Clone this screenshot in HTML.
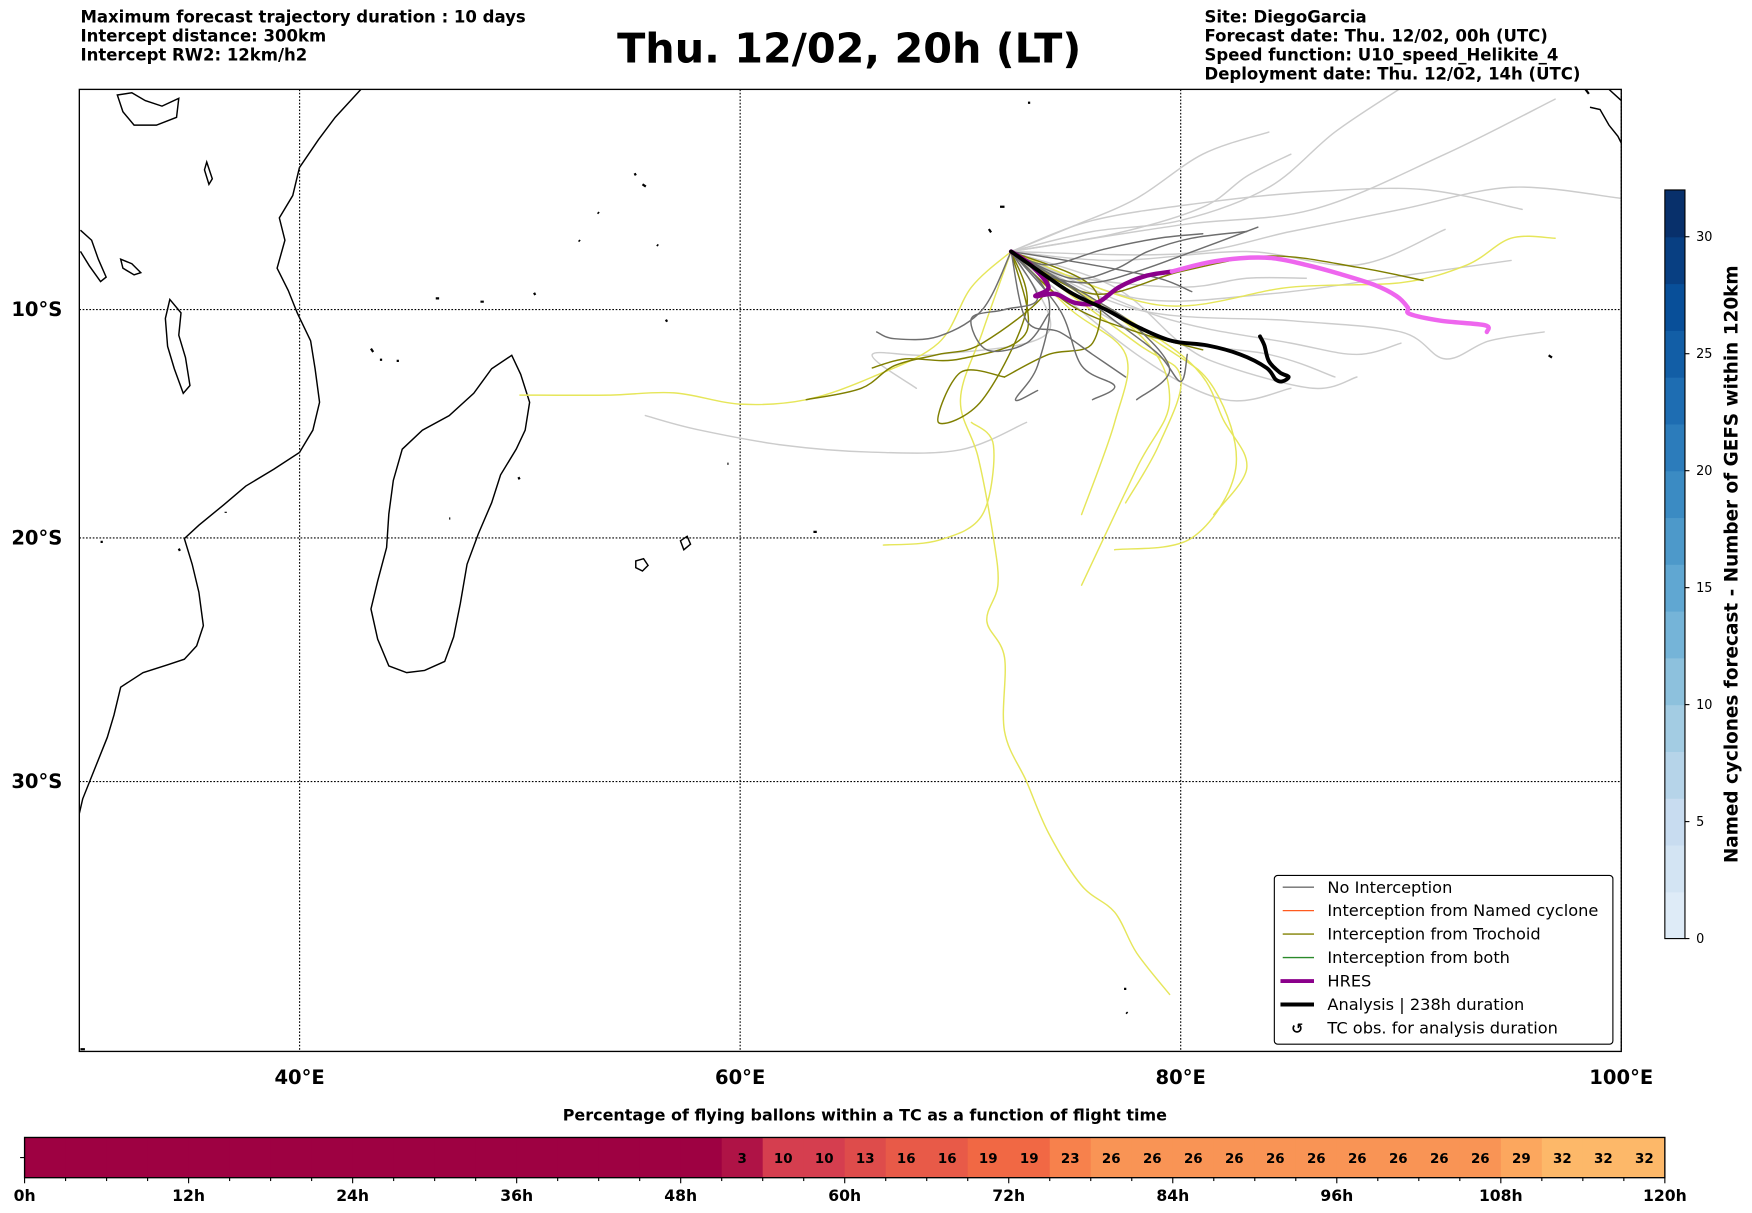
<!DOCTYPE html>
<html><head><meta charset="utf-8">
<style>
html,body{margin:0;padding:0;background:#fff;}
svg{display:block;font-family:"Liberation Sans","DejaVu Sans",sans-serif;}
</style></head>
<body>
<svg id="chart" width="1752" height="1213" viewBox="0 0 1568 1085.6" xmlns="http://www.w3.org/2000/svg">
<g font-size="14.8" font-weight="bold" font-family="DejaVu Sans, sans-serif">
<text x="72" y="20">Maximum forecast trajectory duration : 10 days</text>
<text x="72" y="37">Intercept distance: 300km</text>
<text x="72" y="54">Intercept RW2: 12km/h2</text>
</g>
<text x="760" y="56" text-anchor="middle" font-size="37" font-weight="bold" font-family="DejaVu Sans, sans-serif">Thu. 12/02, 20h (LT)</text>
<g font-size="14.8" font-weight="bold" font-family="DejaVu Sans, sans-serif">
<text x="1078" y="20">Site: DiegoGarcia</text>
<text x="1078" y="37">Forecast date: Thu. 12/02, 00h (UTC)</text>
<text x="1078" y="54">Speed function: U10_speed_Helikite_4</text>
<text x="1078" y="71">Deployment date: Thu. 12/02, 14h (UTC)</text>
</g>
<defs><clipPath id="mapclip"><rect x="71" y="80" width="1380" height="861"/></clipPath></defs>
<g id="grid"></g>
<g clip-path="url(#mapclip)" fill="none" stroke="#000" stroke-width="1.3">
<path d="M323,80 L300,105 L285,125 L268,150 L262,175 L250,195 L255,215 L248,240 L258,260 L266,280 L278,305 L282,330 L286,360 L280,385 L268,405 L245,420 L220,435 L200,452 L178,470 L165,482 L172,505 L178,530 L182,560 L176,578 L165,590 L150,595 L128,602 L108,615 L102,640 L96,660 L86,685 L74,715 L71,728"/>
<path d="M458,318 L466,335 L474,360 L470,385 L462,402 L448,425 L440,450 L428,478 L418,505 L412,540 L406,570 L398,592 L380,600 L364,602 L348,596 L338,572 L332,545 L338,520 L346,490 L348,460 L352,430 L360,402 L378,385 L402,372 L424,352 L440,330 Z"/>
<path d="M152,268 L162,280 L160,300 L166,320 L170,345 L164,352 L156,330 L150,310 L148,285 Z"/>
<path d="M72,206 L82,215 L88,232 L95,248 L90,252 L80,238 L72,225"/>
<path d="M105,85 L118,83 L130,90 L145,95 L160,88 L158,105 L140,112 L120,112 L110,100 Z"/>
<path d="M108,232 L118,236 L126,244 L120,246 L110,240 Z"/>
<path d="M185,145 L190,160 L187,165 L183,152 Z"/>
<path d="M569,502 L576,500 L580,506 L575,511 L569,508 Z"/>
<path d="M609,484 L615,480 L618,487 L612,492 Z"/>
<path d="M1423,96 L1432,98 L1440,112 L1448,122 L1451,128 M1440,80 L1451,90"/>
<path stroke-width="2" d="M390,267 l3,0 M430,270 l3,0 M478,262 l1,2 M332,312 l2,3 M340,322 l2,0 M355,323 l2,0 M568,155 l1,2 M575,165 l3,2 M535,190 l1,1 M518,215 l1,1 M588,219 l1,1 M596,286 l1,2 M651,415 l1,0 M464,427 l1,2 M402,464 l1,0 M1386,318 l3,2 M1006,885 l2,0 M1008,906 l1,1 M895,185 l4,0 M885,205 l2,3 M920,92 l2,0 M1419,80 l3,4 M160,491 l1,2 M90,485 l2,0 M202,458 l0,1 M728,476 l3,0 M72,939 l4,0"/>
</g>
<g id="tracks" clip-path="url(#mapclip)" fill="none" stroke-linejoin="round" stroke-linecap="round"></g>
<rect x="71" y="80" width="1380" height="861" fill="none" stroke="#000" stroke-width="1.2"/>
<g id="axislabels" font-size="17.5" font-weight="bold" font-family="DejaVu Sans, sans-serif"></g>
<g>
<rect x="1140.5" y="783.5" width="303" height="151" rx="3" fill="#fff" stroke="#000" stroke-width="1"/>
<g font-size="14.5" font-family="DejaVu Sans, sans-serif">
<line x1="1148" y1="794" x2="1176" y2="794" stroke="#6e6e6e" stroke-width="1.2"/><text x="1188" y="799">No Interception</text>
<line x1="1148" y1="815" x2="1176" y2="815" stroke="#ff5a1f" stroke-width="1.2"/><text x="1188" y="820">Interception from Named cyclone</text>
<line x1="1148" y1="836" x2="1176" y2="836" stroke="#808000" stroke-width="1.2"/><text x="1188" y="841">Interception from Trochoid</text>
<line x1="1148" y1="857" x2="1176" y2="857" stroke="#2a8a2a" stroke-width="1.2"/><text x="1188" y="862">Interception from both</text>
<line x1="1146" y1="878" x2="1176" y2="878" stroke="#8b008b" stroke-width="3.5"/><text x="1188" y="883">HRES</text>
<line x1="1146" y1="899" x2="1176" y2="899" stroke="#000" stroke-width="3.5"/><text x="1188" y="904">Analysis | 238h duration</text>
<text x="1161" y="925" text-anchor="middle" font-weight="bold" font-size="13">↺</text><text x="1188" y="925">TC obs. for analysis duration</text>
</g></g>
<g id="cbar"></g>
<text transform="translate(1555,505) rotate(-90)" text-anchor="middle" font-size="16.5" font-weight="bold" font-family="DejaVu Sans, sans-serif">Named cyclones forecast - Number of GEFS within 120km</text>
<text x="774" y="1003" text-anchor="middle" font-size="14.3" font-weight="bold" font-family="DejaVu Sans, sans-serif">Percentage of flying ballons within a TC as a function of flight time</text>
<g id="hbar"></g>
</svg>
<script>
// ---- map data ----
const lonTicks = [40, 60, 80, 100];
const latTicks = [10, 20, 30];
const analysisTrack = [[72.3,7.4],[73.6,8.3],[75.1,9.3],[76.6,10.0],[78.1,10.8],[79.6,11.4],[81.2,11.6],[82.7,12.0],[83.9,12.6],[84.3,13.1],[84.6,13.2],[84.9,13.0],[84.5,12.8],[84.0,12.3],[83.8,11.6],[83.6,11.2]];
const hresPurple = [[72.3,7.4],[73.2,8.0],[74.0,9.0],[73.4,9.4],[74.3,9.3],[75.2,9.7],[76.2,9.7],[77.2,9.0],[78.4,8.5],[79.6,8.3]];
const hresPink = [[79.6,8.3],[81.2,7.9],[82.7,7.7],[84.2,7.7],[85.7,8.0],[87.2,8.4],[88.8,8.9],[89.8,9.4],[90.3,9.9],[90.4,10.2],[91.8,10.5],[93.8,10.7],[93.9,11.0]];
const grayTracks = [
 [[72.3,7.4],[74,8.5],[76,8.8],[78,8.3],[80,7.6],[83.5,6.3]],
 [[72.3,7.4],[73.5,9.5],[72,10],[70.5,10.4],[71.2,11.8],[73,11.5],[74,10.2]],
 [[72.3,7.4],[75,9],[77,10.5],[79,12],[80,13.2],[80.3,12]],
 [[72.3,7.4],[74,8],[76.5,7.3],[79,6.8],[81,6.6]],
 [[72.3,7.4],[71,10],[69,11.2],[67,11.3],[66.2,11]],
 [[72.3,7.4],[74.5,10],[75.5,12.5],[77,13.4],[76,14]],
 [[72.3,7.4],[76,8],[79,8.6],[80.5,9.2]],
 [[72.3,7.4],[73,10.5],[74.5,11],[76,12],[77.5,13]],
 [[72.3,7.4],[75,8.6],[77,8.2],[78.5,7.4],[80.5,6.8],[83,6.5]],
 [[72.3,7.4],[74,9.5],[73.5,12.5],[72.5,14],[73.5,13.6]],
 [[72.3,7.4],[76,9.5],[78,10.8],[79.5,12.7],[78,14]]
];
const lightTracks = [
 [[72.3,7.4],[76,6.5],[80,6],[84,4.5],[87,2],[90,0]],
 [[72.3,7.4],[77,6.6],[81,5.4],[83,4],[85,3]],
 [[72.3,7.4],[80,6.2],[86,5.5],[92,3],[97,0.5]],
 [[72.3,7.4],[80,7.5],[85,6.5],[90,5.5],[95,4.5],[100,5]],
 [[72.3,7.4],[78,9.5],[84,9.3],[90,8.5],[95,7.8]],
 [[72.3,7.4],[78,10],[85,10.5],[90,11],[92,12.2],[94,11.4],[96.5,11]],
 [[72.3,7.4],[78,11],[84,12],[87,13]],
 [[72.3,7.4],[75,8.5],[80,9],[83,8.6],[85.7,8.6]],
 [[72.3,7.4],[74,11],[69,12],[66,12],[68,13.5]],
 [[55.7,14.7],[58,15.3],[62,16],[66,16.3],[70,16.2],[73,15]],
 [[72.3,7.4],[76,6],[81,5.2],[86,4.7],[91,4.6],[95.5,5.5]],
 [[72.3,7.4],[77,7.8],[83,7.4],[88,8],[92,6.4]],
 [[72.3,7.4],[79,10.3],[85,11.5],[88,12],[90,11.5]],
 [[72.3,7.4],[78,12],[82,14],[85,13.5]],
 [[72.3,7.4],[77,9],[80,11.5],[82,12.5],[86,13.5],[88,13]],
 [[72.3,7.4],[75,6.3],[78,5],[81,3],[84,2]]
];
const olive = [
 [[72.3,7.4],[74,9],[71,11.5],[69,12],[67,12.5],[65.5,13.5],[63,14]],
 [[72.3,7.4],[73,10],[71,14],[69,15],[70,12.8],[72,13]],
 [[72.3,7.4],[76,9.3],[80,8.3],[84,7.6],[88,8.1],[91,8.7]],
 [[72.3,7.4],[75,9.8],[78,11],[81,11.8]],
 [[72.3,7.4],[76,9],[76,11.5],[74,12],[72,13]],
 [[72.3,7.4],[73,11],[70,12.2],[67.5,12.2],[66,12.6]]
];
const yellow = [
 [[72.3,7.4],[70.5,9],[69,11.5],[66,13],[63,14],[60,14.2],[57,13.7],[54,13.8],[50,13.8]],
 [[72.3,7.4],[71,11],[70,14],[70.8,16.5],[71.5,20],[71.7,22],[71.2,23.5],[72,25],[72,28],[73,30],[74,32],[75.5,34],[77,35],[78,36.5],[79.5,38]],
 [[72.3,7.4],[75,10],[77.5,12],[77,15],[75.5,19]],
 [[72.3,7.4],[78,11],[79.5,14],[78,17],[75.5,22]],
 [[72.3,7.4],[79,11.5],[81.5,13.5],[82.5,17],[80.5,20],[77,20.5]],
 [[72.3,7.4],[80,12],[82,15],[83,17],[81.5,19]],
 [[72.3,7.4],[79,9.8],[85,9],[90,8.8],[93,8],[95,6.8],[97,6.8]],
 [[66.5,20.3],[69,20.1],[71,19],[71.5,16],[70.5,15]],
 [[72.3,7.4],[78,11.5],[80,13],[79,16],[77.5,18.5]]
];
// ---- colorbar data ----
const cbarLevels = [0,2,4,6,8,10,12,14,16,18,20,22,24,26,28,30,32];
const cbarTicks = [0,5,10,15,20,25,30];
// ---- bottom bar data ----
const hourTicks = [0,12,24,36,48,60,72,84,96,108,120];
const cellHours = [0,3,6,9,12,15,18,21,24,27,30,33,36,39,42,45,48,51,54,57,60,63,66,69,72,75,78,81,84,87,90,93,96,99,102,105,108,111,114,117];
const cellValues = [0,0,0,0,0,0,0,0,0,0,0,0,0,0,0,0,0,3,10,10,13,16,16,19,19,23,26,26,26,26,26,26,26,26,26,26,29,32,32,32];

const NS='http://www.w3.org/2000/svg';
function mk(tag, attrs, parent){const e=document.createElementNS(NS,tag);for(const k in attrs)e.setAttribute(k,attrs[k]);parent.appendChild(e);return e;}
const merc = lat => Math.log(Math.tan(Math.PI/4+lat*Math.PI/360))*180/Math.PI;
const X = lon => 71 + (lon-30)*19.714;
const Y = lat => 277 + (merc(lat)-merc(10))*19.72;

const grid=document.getElementById('grid');
lonTicks.forEach(l=>{const e=mk('line',{x1:X(l),x2:X(l),y1:80,y2:941,stroke:'#000','stroke-width':1,'stroke-dasharray':'1.5,1.5'},grid);

});
latTicks.forEach(l=>{const e=mk('line',{x1:71,x2:1451,y1:Y(l),y2:Y(l),stroke:'#000','stroke-width':1,'stroke-dasharray':'1.5,1.5'},grid);

});
const al=document.getElementById('axislabels');
lonTicks.forEach(l=>{const t=mk('text',{x:X(l),y:970,'text-anchor':'middle'},al);t.textContent=l+'°E';

});
latTicks.forEach(l=>{const t=mk('text',{x:33,y:Y(l)+6,'text-anchor':'middle'},al);t.textContent=l+'°S';

});

const tg=document.getElementById('tracks');
function smoothPath(pts){const p=pts.map(q=>[X(q[0]),Y(q[1])]);let d='M'+p[0][0].toFixed(1)+','+p[0][1].toFixed(1);
for(let i=0;i<p.length-1;i++){const a=p[Math.max(0,i-1)],b=p[i],c=p[i+1],e=p[Math.min(p.length-1,i+2)];
const c1=[b[0]+(c[0]-a[0])/6,b[1]+(c[1]-a[1])/6],c2=[c[0]-(e[0]-b[0])/6,c[1]-(e[1]-b[1])/6];
d+=' C'+c1[0].toFixed(1)+','+c1[1].toFixed(1)+' '+c2[0].toFixed(1)+','+c2[1].toFixed(1)+' '+c[0].toFixed(1)+','+c[1].toFixed(1);}
return d;}
function drawTrack(pts,color,w,name){
const e=mk('path',{d:smoothPath(pts),stroke:color,'stroke-width':w},tg);

}
lightTracks.forEach((t,i)=>drawTrack(t,'#cccccc',1.3,'light-track-'+i));
yellow.forEach((t,i)=>drawTrack(t,'#e6e65a',1.3,'trochoid-late-track-'+i));
olive.forEach((t,i)=>drawTrack(t,'#7f7f00',1.3,'trochoid-track-'+i));
grayTracks.forEach((t,i)=>drawTrack(t,'#6e6e6e',1.3,'no-interception-track-'+i));
drawTrack(hresPurple,'#8b008b',4,'hres-track');
drawTrack(hresPink,'#ee66ee',4,'hres-track-late');
drawTrack(analysisTrack,'#000',3.5,'analysis-track');

// colorbar
const cb=document.getElementById('cbar');
const cbTop=170,cbBot=840,cbMax=32;
const CY=v=>cbBot-(v/cbMax)*(cbBot-cbTop);
const blues=[[222,235,247],[198,219,239],[158,202,225],[107,174,214],[66,146,198],[33,113,181],[8,81,156],[8,48,107]];
function blue(t){const n=blues.length-1,f=t*n,i=Math.min(n-1,Math.floor(f)),r=f-i;const c=blues[i].map((v,k)=>Math.round(v+(blues[i+1][k]-v)*r));return 'rgb('+c.join(',')+')';}
for(let i=0;i<cbarLevels.length-1;i++){const e=mk('rect',{x:1490,y:CY(cbarLevels[i+1]),width:18,height:CY(cbarLevels[i])-CY(cbarLevels[i+1])+0.5,fill:blue(i/(cbarLevels.length-2))},cb);

}
mk('rect',{x:1490,y:cbTop,width:18,height:cbBot-cbTop,fill:'none',stroke:'#000','stroke-width':1},cb);
cbarTicks.forEach(v=>{mk('line',{x1:1508,x2:1512,y1:CY(v),y2:CY(v),stroke:'#000'},cb);const t=mk('text',{x:1518,y:CY(v)+4,'font-size':11.5,'font-family':'DejaVu Sans, sans-serif'},cb);t.textContent=v;

});

// bottom bar
const hb=document.getElementById('hbar');
const HX=h=>22+h*(1490-22)/120;
const spec=[[158,1,66],[213,62,79],[244,109,67],[253,174,97],[254,224,139]];
function spectral(v){const t=Math.min(0.4,v/100)/0.1,i=Math.min(3,Math.floor(t)),r=t-i;const c=spec[i].map((x,k)=>Math.round(x+(spec[i+1][k]-x)*r));return 'rgb('+c.join(',')+')';}
cellHours.forEach((h,i)=>{const e=mk('rect',{x:HX(h),y:1018,width:HX(h+3)-HX(h)+0.6,height:36,fill:spectral(cellValues[i])},hb);


if(cellValues[i]>0){const t=mk('text',{x:(HX(h)+HX(h+3))/2,y:1041,'text-anchor':'middle','font-size':12,'font-weight':'bold','font-family':'DejaVu Sans, sans-serif'},hb);t.textContent=cellValues[i];

}});
mk('rect',{x:22,y:1018,width:1468,height:36,fill:'none',stroke:'#000','stroke-width':1.2},hb);
mk('line',{x1:18,x2:22,y1:1036,y2:1036,stroke:'#000'},hb);
for(let h=0;h<=120;h+=3){mk('line',{x1:HX(h),x2:HX(h),y1:1054,y2:h%12===0?1059:1057,stroke:'#000'},hb);}
hourTicks.forEach(h=>{const t=mk('text',{x:HX(h),y:1075,'text-anchor':'middle','font-size':14,'font-weight':'bold','font-family':'DejaVu Sans, sans-serif'},hb);t.textContent=h+'h';

});
</script>
</body></html>
